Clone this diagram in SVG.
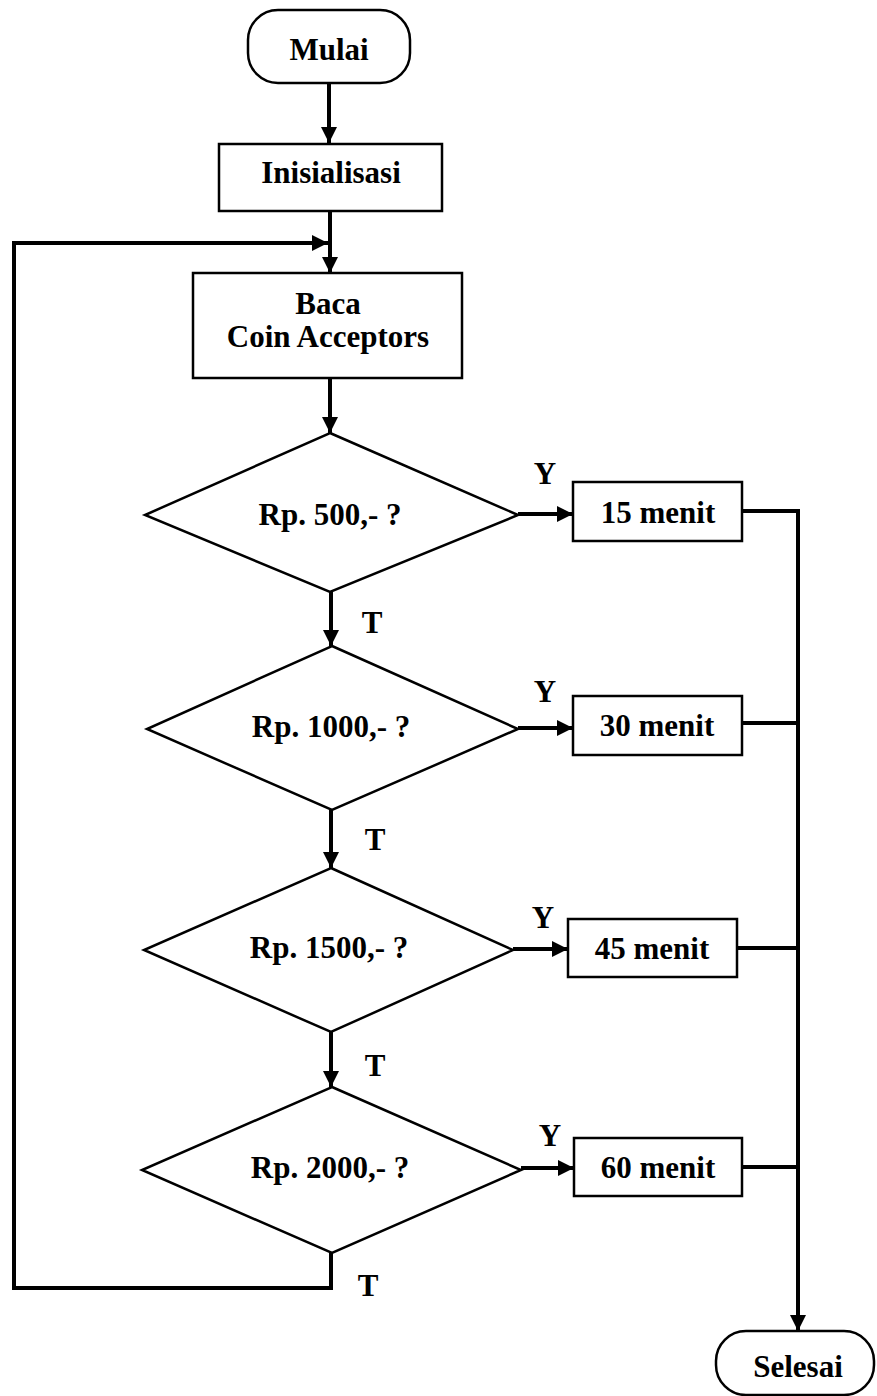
<svg xmlns="http://www.w3.org/2000/svg" width="877" height="1396" viewBox="0 0 877 1396">
<style>
.shape{fill:#fff;stroke:#000;stroke-width:2.5}
.conn{fill:none;stroke:#000;stroke-width:4;stroke-linejoin:miter}
text{font-family:"Liberation Serif","Times New Roman",serif;font-weight:bold;font-size:31px;fill:#000;text-anchor:middle}
</style>
<defs>
<marker id="arr" markerUnits="userSpaceOnUse" markerWidth="18" markerHeight="18" viewBox="0 0 18 18" refX="17" refY="9" orient="auto">
<path d="M1,1 L17,9 L1,17 Z" fill="#000"/>
</marker>
</defs>
<rect width="877" height="1396" fill="#fff"/>
<g id="connectors">
<path class="conn" d="M329,83 V143" marker-end="url(#arr)"/>
<path class="conn" d="M330,211 V273" marker-end="url(#arr)"/>
<path class="conn" d="M331,1253 V1288 H14 V243 H328" marker-end="url(#arr)"/>
<path class="conn" d="M330,378 V433" marker-end="url(#arr)"/>
<path class="conn" d="M331,592 V646" marker-end="url(#arr)"/>
<path class="conn" d="M331,810 V868" marker-end="url(#arr)"/>
<path class="conn" d="M331,1032 V1087" marker-end="url(#arr)"/>
<path class="conn" d="M518,514 H573" marker-end="url(#arr)"/>
<path class="conn" d="M518,728 H573" marker-end="url(#arr)"/>
<path class="conn" d="M513,949 H568" marker-end="url(#arr)"/>
<path class="conn" d="M521,1168 H574" marker-end="url(#arr)"/>
<path class="conn" d="M742,511 H798 V1331" marker-end="url(#arr)"/>
<path class="conn" d="M742,723 H798"/>
<path class="conn" d="M737,948 H798"/>
<path class="conn" d="M742,1167 H798"/>
</g>
<g id="mulai"><rect class="shape" x="248" y="10" width="162" height="73" rx="30"/><text x="329" y="60">Mulai</text></g>
<g id="inisialisasi"><rect class="shape" x="219" y="144" width="223" height="67"/><text x="331" y="183">Inisialisasi</text></g>
<g id="baca"><rect class="shape" x="193" y="273" width="269" height="105"/><text x="328" y="314">Baca</text><text x="328" y="347">Coin Acceptors</text></g>
<g id="d500"><polygon class="shape" points="330,433 518,515 330,592 145,515"/><text x="330" y="525">Rp. 500,- ?</text></g>
<g id="d1000"><polygon class="shape" points="332,646 518,729 332,810 147,729"/><text x="331" y="737">Rp. 1000,- ?</text></g>
<g id="d1500"><polygon class="shape" points="331,868 513,950 331,1032 144,950"/><text x="329" y="958">Rp. 1500,- ?</text></g>
<g id="d2000"><polygon class="shape" points="332,1087 521,1170 332,1253 142,1170"/><text x="330" y="1178">Rp. 2000,- ?</text></g>
<g id="m15"><rect class="shape" x="573" y="482" width="169" height="59"/><text x="658" y="523">15 menit</text></g>
<g id="m30"><rect class="shape" x="573" y="696" width="169" height="59"/><text x="657" y="736">30 menit</text></g>
<g id="m45"><rect class="shape" x="568" y="919" width="169" height="58"/><text x="652" y="959">45 menit</text></g>
<g id="m60"><rect class="shape" x="574" y="1138" width="168" height="58"/><text x="658" y="1178">60 menit</text></g>
<g id="selesai"><rect class="shape" x="716" y="1331" width="158" height="64" rx="30"/><text x="798" y="1377">Selesai</text></g>
<g id="labels">
<text x="545" y="484">Y</text>
<text x="545" y="702">Y</text>
<text x="543" y="928">Y</text>
<text x="550" y="1146">Y</text>
<text x="372" y="633">T</text>
<text x="375" y="850">T</text>
<text x="375" y="1076">T</text>
<text x="368" y="1296">T</text>
</g>
</svg>
